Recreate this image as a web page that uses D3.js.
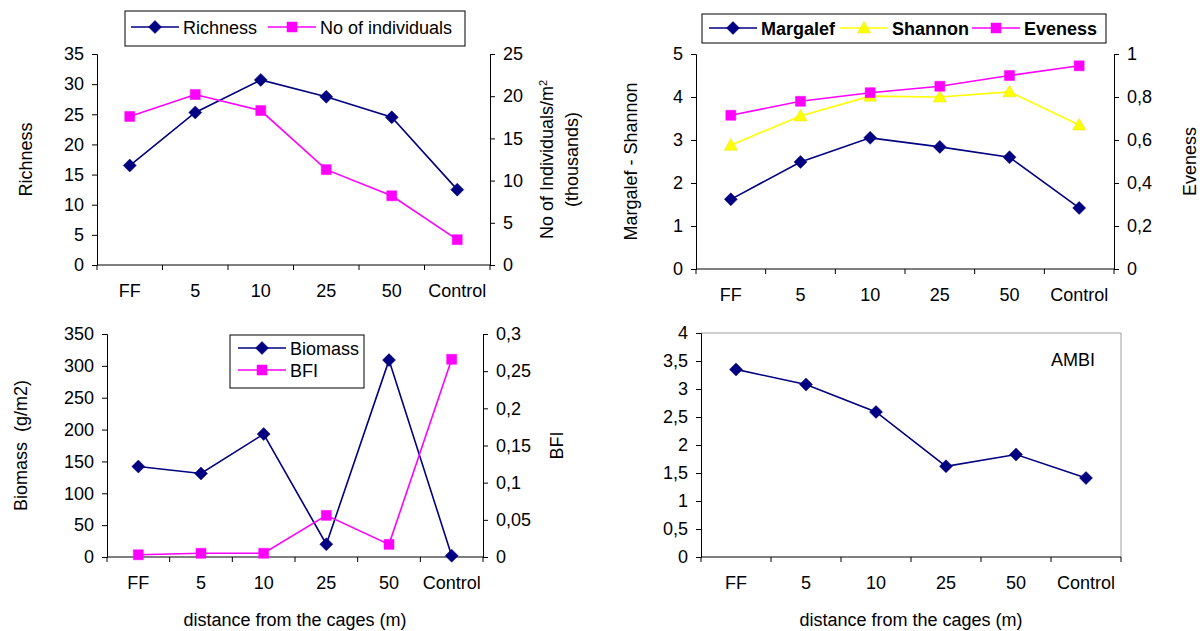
<!DOCTYPE html>
<html>
<head>
<meta charset="utf-8">
<script src="https://cdn.jsdelivr.net/npm/d3@7"></script>
<style>
  body { margin: 0; background: #fff; }
  svg { font-family: "Liberation Sans", Arial, sans-serif; }
</style>
</head>
<body>
<svg id="chart" width="1203" height="631"></svg>
<script>
// categories (distance from cages)
const categories = ["FF", "5", "10", "25", "50", "Control"];

// top-left
const richness = [16.5, 25.3, 30.7, 27.9, 24.5, 12.5];
const individuals = [17.6, 20.2, 18.3, 11.3, 8.2, 3.0];
const richTicks = [0, 5, 10, 15, 20, 25, 30, 35];
const indivTicks = [0, 5, 10, 15, 20, 25];

// top-right
const margalef = [1.62, 2.49, 3.05, 2.84, 2.60, 1.42];
const shannon = [2.88, 3.56, 4.02, 4.0, 4.12, 3.35];
const eveness = [0.715, 0.78, 0.82, 0.85, 0.90, 0.945];
const msTicks = [0, 1, 2, 3, 4, 5];
const evTicks = [0, 0.2, 0.4, 0.6, 0.8, 1];

// bottom-left
const biomass = [142, 131, 193, 20, 309, 2];
const bfi = [0.003, 0.005, 0.005, 0.056, 0.017, 0.266];
const bioTicks = [0, 50, 100, 150, 200, 250, 300, 350];
const bfiTicks = [0, 0.05, 0.1, 0.15, 0.2, 0.25, 0.3];

// bottom-right
const ambi = [3.35, 3.08, 2.59, 1.62, 1.83, 1.41];
const ambiTicks = [0, 0.5, 1, 1.5, 2, 2.5, 3, 3.5, 4];

const NAVY = "#000080", MAGENTA = "#ff00ff", YELLOW = "#ffff00";
const FS = 18;
const fmt = d => String(d).replace(".", ",");
const svg = d3.select("#chart");

function marker(g, shape, color, x, y) {
  let d;
  if (shape === "diamond") d = "M0,-6.5L6.5,0L0,6.5L-6.5,0Z";
  else if (shape === "square") d = "M-5,-5H5V5H-5Z";
  else d = "M0,-6.5L6.5,5L-6.5,5Z";
  g.append("path")
    .attr("d", d)
    .attr("transform", `translate(${x},${y})`)
    .attr("fill", color)
    .attr("stroke", color === YELLOW ? "#e0e000" : color)
    .attr("stroke-width", 0.5);
}

function series(g, x, y, values, color, shape) {
  const line = d3.line()
    .x((d, i) => x(categories[i]) + x.bandwidth() / 2)
    .y(d => y(d));
  g.append("path").datum(values)
    .attr("fill", "none").attr("stroke", color).attr("stroke-width", 1.6)
    .attr("d", line);
  values.forEach((v, i) => marker(g, shape, color, x(categories[i]) + x.bandwidth() / 2, y(v)));
}

function styleText(sel) {
  sel.selectAll("text").attr("font-size", FS).attr("fill", "#000")
    .attr("font-family", "Liberation Sans, Arial, sans-serif");
}

function panel(p) {
  const g = svg.append("g");
  const x = d3.scaleBand().domain(categories).range([p.left, p.right]);
  const yL = d3.scaleLinear().domain(p.leftDomain).range([p.bottom, p.top]);

  if (p.frame) {
    g.append("path")
      .attr("d", `M${p.left},${p.top}H${p.right}V${p.bottom}`)
      .attr("fill", "none").attr("stroke", "#a0a0a0").attr("stroke-width", 1);
  }

  // left axis
  const la = g.append("g").attr("transform", `translate(${p.left},0)`)
    .call(d3.axisLeft(yL).tickValues(p.leftTicks).tickSize(5).tickPadding(8).tickFormat(fmt));
  la.select(".domain").attr("stroke", "#000");
  styleText(la);

  let yR = null;
  if (p.rightDomain) {
    yR = d3.scaleLinear().domain(p.rightDomain).range([p.bottom, p.top]);
    const ra = g.append("g").attr("transform", `translate(${p.right},0)`)
      .call(d3.axisRight(yR).tickValues(p.rightTicks).tickSize(5).tickPadding(8).tickFormat(fmt));
    ra.select(".domain").attr("stroke", "#000");
    styleText(ra);
  }

  // bottom axis: labels centred, ticks at band edges
  const ba = g.append("g").attr("transform", `translate(0,${p.bottom})`)
    .call(d3.axisBottom(x).tickSize(0).tickPadding(19));
  ba.select(".domain").remove();
  styleText(ba);
  g.append("line").attr("x1", p.left).attr("x2", p.right).attr("y1", p.bottom).attr("y2", p.bottom).attr("stroke", "#000");
  const edges = categories.map(c => x(c)).concat([p.right]);
  g.selectAll(null).data(edges).enter().append("line")
    .attr("x1", d => d).attr("x2", d => d)
    .attr("y1", p.bottom).attr("y2", p.bottom + 5).attr("stroke", "#000");

  p.series.forEach(s => series(g, x, s.axis === "right" ? yR : yL, s.values, s.color, s.shape));

  // axis titles
  p.leftTitle.forEach(t => {
    g.append("text").attr("transform", `translate(${t.x},${(p.top + p.bottom) / 2}) rotate(-90)`)
      .attr("text-anchor", "middle").attr("font-size", FS).text(t.text);
  });
  (p.rightTitle || []).forEach(t => {
    const tx = g.append("text").attr("transform", `translate(${t.x},${(p.top + p.bottom) / 2}) rotate(-90)`)
      .attr("text-anchor", "middle").attr("font-size", FS).text(t.text);
    if (t.sup) tx.append("tspan").attr("baseline-shift", "super").attr("font-size", 11).text(t.sup);
  });
  if (p.xTitle) {
    g.append("text").attr("x", (p.left + p.right) / 2).attr("y", 626)
      .attr("text-anchor", "middle").attr("font-size", FS).text(p.xTitle);
  }

  // legend
  if (p.legend) {
    const L = p.legend;
    g.append("rect").attr("x", L.x).attr("y", L.y).attr("width", L.w).attr("height", L.h)
      .attr("fill", "#fff").attr("stroke", "#000").attr("stroke-width", 1);
    L.items.forEach(it => {
      g.append("line").attr("x1", it.x).attr("x2", it.x + 48).attr("y1", it.y).attr("y2", it.y)
        .attr("stroke", it.color).attr("stroke-width", 1.6);
      marker(g, it.shape, it.color, it.x + 24, it.y);
      g.append("text").attr("x", it.x + 52).attr("y", it.y + 6.5).attr("font-size", FS)
        .attr("font-weight", L.bold ? "bold" : "normal").text(it.label);
    });
  }
}

// top-left
panel({
  left: 97, right: 490, top: 54, bottom: 265,
  leftDomain: [0, 35], leftTicks: richTicks,
  rightDomain: [0, 25], rightTicks: indivTicks,
  series: [
    { values: richness, color: NAVY, shape: "diamond", axis: "left" },
    { values: individuals, color: MAGENTA, shape: "square", axis: "right" }
  ],
  leftTitle: [{ x: 32, text: "Richness" }],
  rightTitle: [{ x: 553, text: "No of Individuals/m", sup: "2" }, { x: 578, text: "(thousands)" }],
  legend: {
    x: 125, y: 11, w: 340, h: 35,
    items: [
      { x: 131, y: 27, color: NAVY, shape: "diamond", label: "Richness" },
      { x: 268, y: 27, color: MAGENTA, shape: "square", label: "No of individuals" }
    ]
  }
});

// top-right
panel({
  left: 696, right: 1114, top: 54, bottom: 269,
  leftDomain: [0, 5], leftTicks: msTicks,
  rightDomain: [0, 1], rightTicks: evTicks,
  series: [
    { values: margalef, color: NAVY, shape: "diamond", axis: "left" },
    { values: shannon, color: YELLOW, shape: "triangle", axis: "left" },
    { values: eveness, color: MAGENTA, shape: "square", axis: "right" }
  ],
  leftTitle: [{ x: 637, text: "Margalef - Shannon" }],
  rightTitle: [{ x: 1196, text: "Eveness" }],
  legend: {
    x: 702, y: 14, w: 404, h: 29, bold: true,
    items: [
      { x: 709, y: 28, color: NAVY, shape: "diamond", label: "Margalef" },
      { x: 840, y: 28, color: YELLOW, shape: "triangle", label: "Shannon" },
      { x: 972, y: 28, color: MAGENTA, shape: "square", label: "Eveness" }
    ]
  }
});

// bottom-left
panel({
  left: 107, right: 483, top: 334, bottom: 557,
  leftDomain: [0, 350], leftTicks: bioTicks,
  rightDomain: [0, 0.3], rightTicks: bfiTicks,
  series: [
    { values: biomass, color: NAVY, shape: "diamond", axis: "left" },
    { values: bfi, color: MAGENTA, shape: "square", axis: "right" }
  ],
  leftTitle: [{ x: 27, text: "Biomass\u00a0\u00a0(g/m2)" }],
  rightTitle: [{ x: 563, text: "BFI" }],
  xTitle: "distance from the cages (m)",
  legend: {
    x: 230, y: 335, w: 134, h: 53,
    items: [
      { x: 238, y: 348, color: NAVY, shape: "diamond", label: "Biomass" },
      { x: 238, y: 370, color: MAGENTA, shape: "square", label: "BFI" }
    ]
  }
});

// bottom-right
panel({
  left: 701, right: 1121, top: 333, bottom: 557,
  leftDomain: [0, 4], leftTicks: ambiTicks,
  frame: true,
  series: [
    { values: ambi, color: NAVY, shape: "diamond", axis: "left" }
  ],
  leftTitle: [],
  xTitle: "distance from the cages (m)"
});
svg.append("text").attr("x", 1073).attr("y", 366).attr("text-anchor", "middle")
  .attr("font-size", FS).text("AMBI");
</script>
</body>
</html>
